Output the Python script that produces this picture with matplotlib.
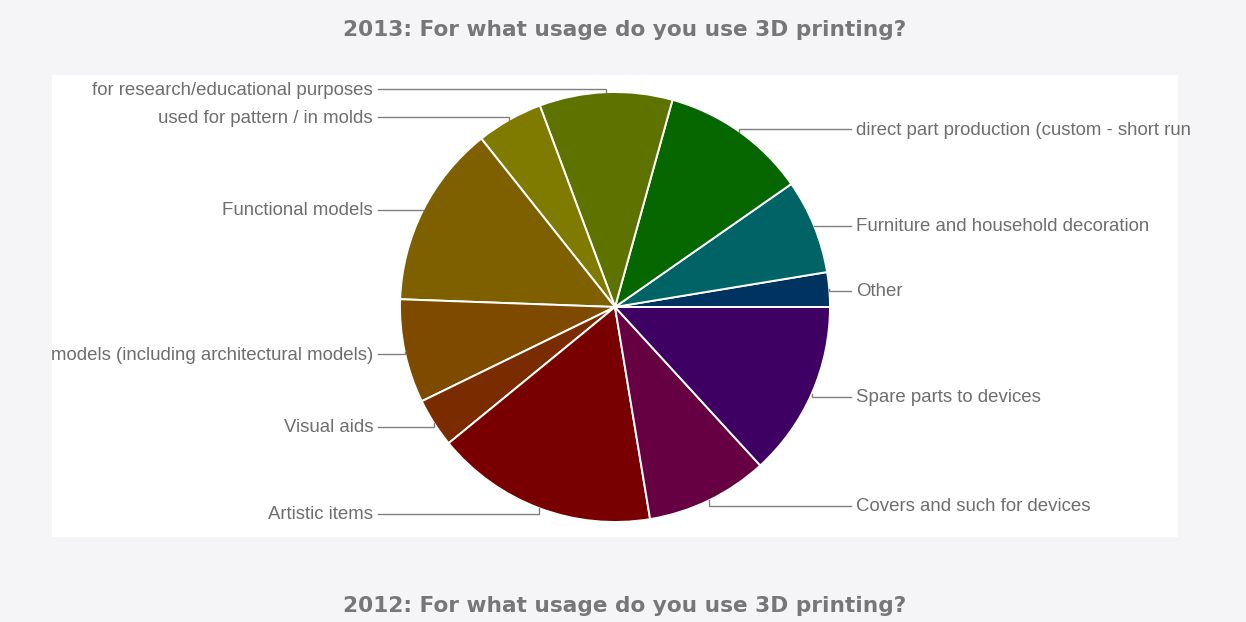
import numpy as np
import matplotlib
matplotlib.use("Agg")
import matplotlib.pyplot as plt
from matplotlib.patches import Rectangle

# 2013 survey: usage of 3D printing (share of answers, %)
labels = ["Other", "Furniture and household decoration",
          "direct part production (custom - short run",
          "for research/educational purposes", "used for pattern / in molds",
          "Functional models", "models (including architectural models)",
          "Visual aids", "Artistic items", "Covers and such for devices",
          "Spare parts to devices"]
shares = [2.6, 7.1, 11.0, 10.0, 5.0, 13.75, 7.8, 3.7, 16.7, 9.2, 13.2]
colors = ["#00335f", "#006466", "#066600", "#5e7200", "#7f7a00", "#7f6000",
          "#7d4a00", "#7a2c00", "#780000", "#660042", "#3e0062"]

W, H = 1246, 622
fig = plt.figure(figsize=(W / 100, H / 100), dpi=100, facecolor="#f5f5f7")
ax = fig.add_axes([0, 0, 1, 1])
ax.set_facecolor("none")

cx, cy, R = 615, H - 307, 215
panel = Rectangle((52, H - 537), 1178 - 52, 537 - 75, facecolor="white",
                  edgecolor="none", zorder=0)
ax.add_patch(panel)

wedges, _ = ax.pie(shares, colors=colors, startangle=0, counterclock=True,
                   center=(cx, cy), radius=R,
                   wedgeprops=dict(edgecolor="white", linewidth=1.4))
ax.set_xlim(0, W)
ax.set_ylim(0, H)
ax.set_aspect("equal", adjustable="datalim")
ax.axis("off")

txt_color = "#6e6e6e"
for w, lab in zip(wedges, labels):
    mid = np.deg2rad((w.theta1 + w.theta2) / 2)
    ex, ey = cx + R * np.cos(mid), cy + R * np.sin(mid)
    # labels sit a little outside the slice midpoint, leader drops to the rim
    ly = cy + (R + 4.5) * np.sin(mid) - 1.5
    if np.cos(mid) >= 0:
        lx, ha, dx = 851, "left", 5
    else:
        lx, ha, dx = 378, "right", -5
    ax.plot([lx, ex, ex], [ly, ly, ey], color="#808080", lw=1.0,
            solid_joinstyle="miter", zorder=1)
    ax.text(lx + dx, ly - 1, lab, ha=ha, va="center",
            fontsize=13.4, color=txt_color, family="Liberation Sans")

title_kw = dict(ha="center", va="center", fontsize=15.6, fontweight="bold",
                color="#777777", family="DejaVu Sans")
fig.text(625 / W, 1 - 30 / H, "2013: For what usage do you use 3D printing?", **title_kw)
fig.text(625 / W, 1 - 606 / H, "2012: For what usage do you use 3D printing?", **title_kw)

fig.savefig("out.png", dpi=100, facecolor=fig.get_facecolor())
